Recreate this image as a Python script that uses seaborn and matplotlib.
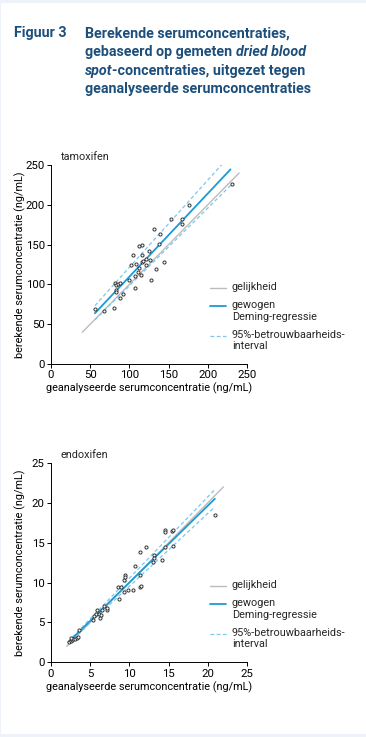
import numpy as np
import pandas as pd
import matplotlib
matplotlib.use("Agg")
import matplotlib.pyplot as plt
import seaborn as sns
from matplotlib.patches import Rectangle

# tamoxifen: measured serum vs calculated from DBS (ng/mL)
tam_measured = [55.6, 67.9, 80.2, 81.5, 83.5, 86.0, 88.5, 82.5, 83.0, 87.6,
                91.4, 99.9, 102.5, 104.6, 107.1, 107.6, 108.4, 111.4, 112.2, 112.7,
                114.8, 115.6, 115.6, 116.0, 118.0, 120.7, 121.6, 124.6, 126.7, 127.6,
                131.8, 133.9, 137.3, 139.5, 143.7, 153.5, 167.5, 167.5, 176.4, 230.4]
tam_calculated = [68.7, 66.2, 70.8, 101.3, 99.0, 100.0, 101.5, 93.0, 90.7, 82.4,
                  88.0, 105.5, 124.8, 136.5, 95.1, 110.6, 125.2, 116.0, 148.2, 121.0,
                  111.8, 127.7, 137.3, 149.5, 130.0, 132.3, 124.4, 142.0, 130.3, 105.1,
                  170.0, 119.7, 151.0, 163.0, 128.5, 182.5, 182.5, 176.3, 199.7, 226.0]

# endoxifen
endo_measured = [2.33, 2.55, 2.67, 2.84, 2.59, 3.0, 3.3, 3.5, 3.6, 5.3,
                 5.5, 5.8, 5.9, 6.1, 6.2, 6.4, 6.5, 6.8, 7.1, 7.2,
                 8.7, 8.6, 8.9, 9.3, 9.3, 9.5, 9.5, 9.85, 10.4, 10.7,
                 11.3, 11.3, 11.5, 11.3, 12.1, 12.95, 13.1, 13.1, 14.2, 14.5,
                 14.55, 14.55, 15.5, 15.6, 15.6, 20.9]
endo_calculated = [2.5, 2.67, 2.8, 2.92, 3.09, 2.92, 3.05, 3.2, 4.1, 5.3,
                   5.84, 6.05, 6.55, 6.1, 5.6, 5.9, 6.55, 7.1, 6.6, 6.85,
                   7.9, 9.4, 9.5, 8.85, 10.3, 10.9, 10.7, 9.05, 9.1, 12.1,
                   13.8, 9.5, 9.6, 10.9, 14.4, 12.6, 13.4, 13.1, 12.8, 14.4,
                   16.65, 16.35, 16.5, 16.65, 14.6, 18.5]

# lines: (slope, intercept, x_from, x_to)
tam_identity = (1.0, 0.0, 40, 240)
tam_deming = (1.045, 5.2, 56, 229)
tam_ci_upper = (1.095, 12.0, 56, 230)
tam_ci_lower = (0.976, 0.7, 56, 232)

endo_identity = (1.0, 0.0, 2.0, 22.0)
endo_deming = (0.963, 0.38, 2.2, 20.9)
endo_ci_upper = (1.02, 0.35, 2.2, 20.9)
endo_ci_lower = (0.914, 0.39, 2.2, 20.9)

legend_labels = ["gelijkheid", "gewogen\nDeming-regressie", "95%-betrouwbaarheids-\ninterval"]

sns.set_style("ticks")
plt.rcParams['font.family'] = ['Roboto', 'DejaVu Sans']

TITLE_BLUE = '#1d4f7c'
GREY = '#bcbcbc'
BLUE = '#1a9ad6'
LIGHTBLUE = '#7cc8ec'
FS = 7.8

fig = plt.figure(figsize=(3.66, 7.37), dpi=100)
fig.patch.set_facecolor('#edf3f9')
fig.add_artist(Rectangle((1/366, 3/737), 1, 1 - 6/737, transform=fig.transFigure,
                         facecolor='white', edgecolor='none', zorder=0))


def line(ax, spec, **kw):
    s, b, x0, x1 = spec
    xs = np.array([x0, x1])
    ax.plot(xs, s * xs + b, **kw)


def panel(ax, meas, calc, ident, dem, up, lo, lim, step, name):
    line(ax, ident, color=GREY, lw=1.0, zorder=1)
    line(ax, up, color=LIGHTBLUE, lw=0.9, ls=(0, (3, 2)), zorder=2)
    line(ax, lo, color=LIGHTBLUE, lw=0.9, ls=(0, (3, 2)), zorder=2)
    line(ax, dem, color=BLUE, lw=1.3, zorder=3)
    df = pd.DataFrame({'x': meas, 'y': calc})
    sns.scatterplot(data=df, x='x', y='y', ax=ax, marker='o', s=5,
                    facecolor='white', edgecolor='#333333', linewidth=0.7, zorder=4)
    ax.set_xlim(0, lim)
    ax.set_ylim(0, lim)
    ax.set_xticks(np.arange(0, lim + 1, step))
    ax.set_yticks(np.arange(0, lim + 1, step))
    sns.despine(ax=ax)
    for sp in ['left', 'bottom']:
        ax.spines[sp].set_linewidth(0.7)
        ax.spines[sp].set_color('black')
    ax.tick_params(length=3, width=0.7, labelsize=FS + 0.4, pad=1.5, colors='black')
    ax.set_xlabel("geanalyseerde serumconcentratie (ng/mL)", fontsize=FS, color='black')
    ax.set_ylabel("berekende serumconcentratie (ng/mL)", fontsize=FS, color='black')
    ax.xaxis.set_label_coords(0.5, -0.095)
    ax.yaxis.set_label_coords(-0.125, 0.5)
    ax.text(0.051, 1.04, name, transform=ax.transAxes, fontsize=FS, va='center', ha='left')
    ax.set_facecolor('none')

    # legend drawn at the right of the plot
    hx = [0.811, 0.893]
    tx = 0.923
    ax.plot(hx, [0.382, 0.382], transform=ax.transAxes, clip_on=False, color=GREY, lw=1.0)
    ax.plot(hx, [0.291, 0.291], transform=ax.transAxes, clip_on=False, color=BLUE, lw=1.3)
    ax.plot(hx, [0.143, 0.143], transform=ax.transAxes, clip_on=False, color=LIGHTBLUE,
            lw=0.9, ls=(0, (3, 2)))
    for yy, lab in zip([0.382, 0.291, 0.143], legend_labels):
        ax.text(tx, yy + 0.03, lab, transform=ax.transAxes, fontsize=FS, va='top',
                ha='left', linespacing=1.2)


ax1 = fig.add_axes([0.1393, 0.5061, 0.5355, 0.27])
ax2 = fig.add_axes([0.1393, 0.1014, 0.5355, 0.2704])
panel(ax1, tam_measured, tam_calculated, tam_identity, tam_deming, tam_ci_upper,
      tam_ci_lower, 250, 50, "tamoxifen")
panel(ax2, endo_measured, endo_calculated, endo_identity, endo_deming, endo_ci_upper,
      endo_ci_lower, 25, 5, "endoxifen")

# title block
tkw = dict(fontsize=10.3, fontweight='bold', color=TITLE_BLUE, va='baseline', ha='left')
W, H = 366, 737
fig.text(14 / W, 1 - 37.5 / H, "Figuur 3", **tkw)
base = [37.5, 56.0, 74.5, 93.0]
pieces = [
    [("Berekende serumconcentraties,", 'normal')],
    [("gebaseerd op gemeten ", 'normal'), ("dried blood", 'italic')],
    [("spot", 'italic'), ("-concentraties, uitgezet tegen", 'normal')],
    [("geanalyseerde serumconcentraties", 'normal')],
]
fig.canvas.draw()
r = fig.canvas.get_renderer()
for yb, parts in zip(base, pieces):
    x = 85
    for txt, st in parts:
        t = fig.text(x / W, 1 - yb / H, txt, style=st, **tkw)
        x = t.get_window_extent(renderer=r).x1

fig.savefig("out.png", dpi=100, facecolor=fig.get_facecolor())
